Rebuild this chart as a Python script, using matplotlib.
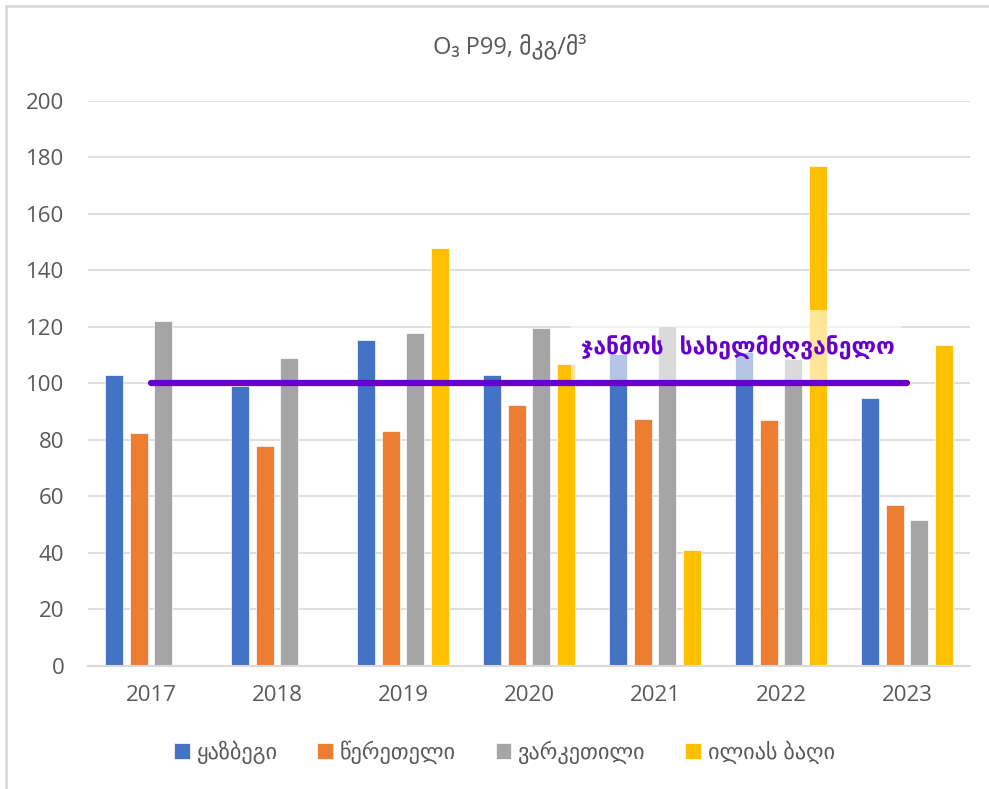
import numpy as np
import matplotlib.pyplot as plt
from matplotlib.patches import Rectangle

plt.rcParams['font.family'] = ['Open Sans', 'DejaVu Sans']

# Data
years = ['2017', '2018', '2019', '2020', '2021', '2022', '2023']
series = ['ყაზბეგი', 'წერეთელი', 'ვარკეთილი', 'ილიას ბაღი']
kazbegi = [103, 99, 115.5, 103, 110.5, 111, 95]
tsereteli = [82.5, 78, 83, 92.5, 87.5, 87, 57]
varketili = [122, 109, 118, 119.5, 120.5, 108.5, 51.5]
ilia_garden = [0, 0, 148, 107, 41, 177, 113.5]
colors = ['#4472C4', '#ED7D31', '#A5A5A5', '#FFC000']
guideline = 100
guideline_label = 'ჯანმოს  სახელმძღვანელო'

fig = plt.figure(figsize=(9.89, 7.89), dpi=100)
ax = fig.add_axes([0.089, 0.156, 0.892, 0.716])

x = np.arange(len(years))
width = 0.143
step = 0.195
for i, (vals, name) in enumerate(zip([kazbegi, tsereteli, varketili, ilia_garden], series)):
    ax.bar(x + (i - 1.5) * step, vals, width, color=colors[i], label=name,
           edgecolor='white', linewidth=0.5, zorder=2)

# semi-transparent box behind the label
ax.add_patch(Rectangle((3.33, 100.6), 2.62, 25.4, facecolor='white', alpha=0.6,
                       edgecolor='none', zorder=3))
ax.plot([0, 6], [guideline, guideline], color='#6600CC', linewidth=4.5,
        solid_capstyle='round', zorder=4)
ax.text(4.66, 113, guideline_label, color='#6600CC', fontsize=16.5, fontweight='bold',
        ha='center', va='center', family='DejaVu Sans', zorder=5)

ax.set_xlim(-0.5, 6.5)
ax.set_ylim(0, 200)
ax.set_xticks(x)
ax.set_xticklabels(years)
ax.set_yticks(np.arange(0, 201, 20))
ax.tick_params(axis='both', length=0, labelsize=16, labelcolor='#595959')
ax.tick_params(axis='y', pad=17)
ax.tick_params(axis='x', pad=14)
ax.grid(axis='y', color='#d9d9d9', linewidth=1.2, zorder=0)
ax.set_axisbelow(True)
for s in ['top', 'right', 'left']:
    ax.spines[s].set_visible(False)
ax.spines['bottom'].set_color('#d9d9d9')
ax.spines['bottom'].set_linewidth(1.5)

fig.text(0.515, 1 - 47 / 789, 'O₃ P99, მკგ/მ³', ha='center', va='center',
         fontsize=17, color='#595959')

fig.legend(loc='center', bbox_to_anchor=(0.51, 1 - 752 / 789), ncol=4, frameon=False,
           fontsize=16, labelcolor='#595959', handlelength=0.7, handleheight=0.7,
           handletextpad=0.3, columnspacing=1.8)

# chart border
fig.add_artist(Rectangle((6 / 989, -0.01), 1.0, 1 - 6 / 789 + 0.01, transform=fig.transFigure,
                         facecolor='none', edgecolor='#d9d9d9', linewidth=2))

fig.savefig('out.png', dpi=100)
